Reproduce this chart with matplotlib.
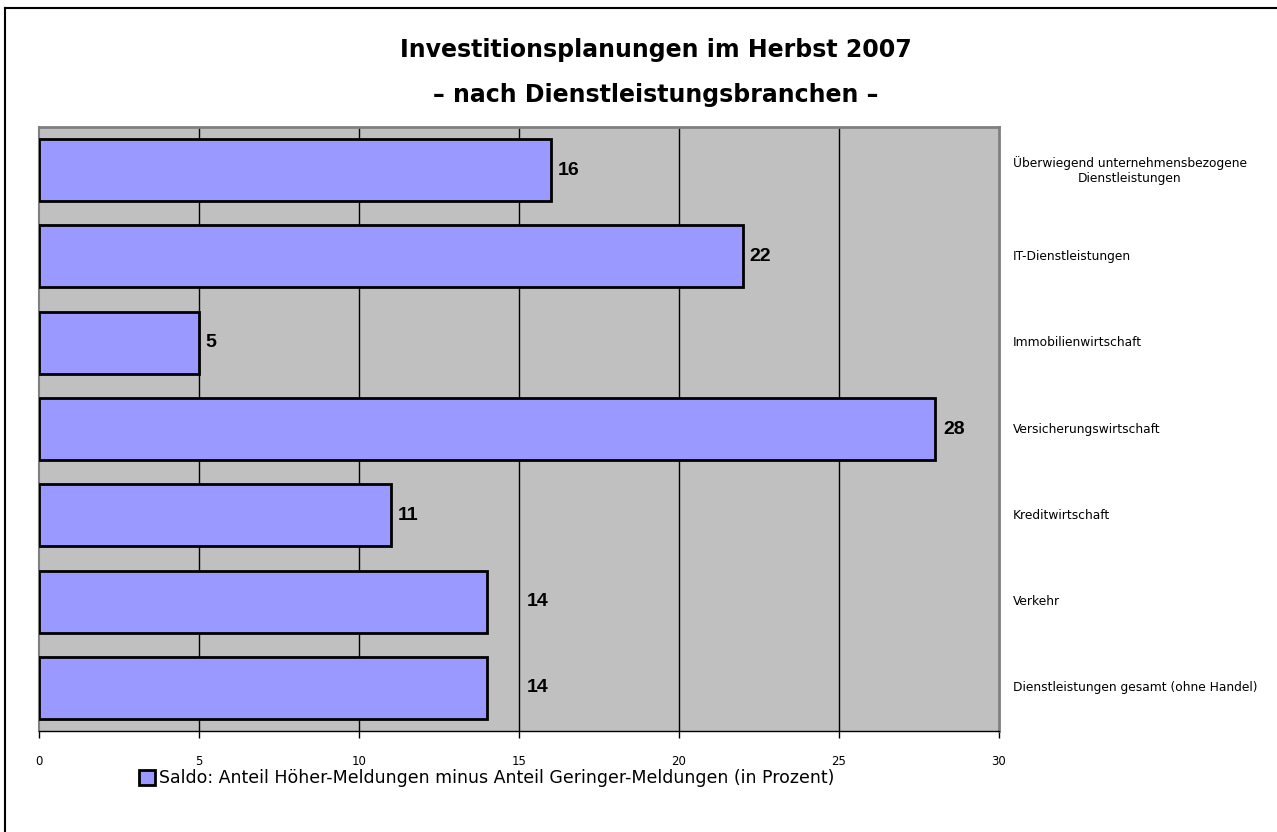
import matplotlib.pyplot as plt
from matplotlib.lines import Line2D
from matplotlib.patches import Patch
import matplotlib.transforms as mtransforms

# data, top to bottom as in the chart
categories = [
    "Überwiegend unternehmensbezogene\nDienstleistungen",
    "IT-Dienstleistungen",
    "Immobilienwirtschaft",
    "Versicherungswirtschaft",
    "Kreditwirtschaft",
    "Verkehr",
    "Dienstleistungen gesamt (ohne Handel)",
]
values = [16, 22, 5, 28, 11, 14, 14]
label_shift = [0.2, 0.2, 0.2, 0.25, 0.2, 1.25, 1.25]
x_ticks = [0, 5, 10, 15, 20, 25, 30]
legend_label = "Saldo: Anteil Höher-Meldungen minus Anteil Geringer-Meldungen (in Prozent)"

W, H = 1277, 832
fig = plt.figure(figsize=(W / 100, H / 100), dpi=100)
fig.patch.set_facecolor("white")

# plot area in pixels: x 39..999, y 127..731
ax = fig.add_axes([39 / W, (H - 731) / H, 960 / W, 604 / H])
ax.set_facecolor("#C0C0C0")

pos = list(range(len(categories)))
ax.barh(pos, values, height=0.72, color="#9999FF", edgecolor="black",
        linewidth=2, zorder=3)
ax.set_ylim(len(categories) - 0.5, -0.5)
ax.set_xlim(0, 30)

for x in x_ticks[1:-1]:
    ax.axvline(x, color="black", linewidth=1, zorder=1)

for i, v in enumerate(values):
    ax.text(v + label_shift[i], i, str(v), ha="left", va="center",
            fontsize=14, fontweight="bold", family="Liberation Sans", zorder=4)

# category names to the right of the plot
trans = mtransforms.blended_transform_factory(ax.transAxes, ax.transData)
for i, c in enumerate(categories):
    ax.text(1.0146, i, c, transform=trans, ha="left", va="center",
            multialignment="center", fontsize=8.8, family="DejaVu Sans")

ax.set_yticks([])
ax.set_xticks(x_ticks)
ax.set_xticklabels([str(t) for t in x_ticks], fontsize=8.5)
ax.tick_params(axis="x", length=5, width=1, color="black", pad=12)
for s in ["top", "right"]:
    ax.spines[s].set_color("#808080")
    ax.spines[s].set_linewidth(2)
ax.spines["left"].set_color("#808080")
ax.spines["left"].set_linewidth(1.5)
ax.spines["bottom"].set_color("black")
ax.spines["bottom"].set_linewidth(1)

fig.text(656 / W, 1 - 50 / H, "Investitionsplanungen im Herbst 2007",
         ha="center", va="center", fontsize=17, fontweight="bold")
fig.text(656 / W, 1 - 95 / H, "– nach Dienstleistungsbranchen –",
         ha="center", va="center", fontsize=17, fontweight="bold")

handle = Patch(facecolor="#9999FF", edgecolor="black", linewidth=2)
fig.legend([handle], [legend_label], loc="center left",
           bbox_to_anchor=(130 / W, 1 - 778 / H), frameon=False,
           fontsize=12.5, handlelength=0.95, handleheight=0.95,
           handletextpad=0.2, borderpad=0)

# outer frame lines (top and left)
fig.add_artist(Line2D([5 / W, 1], [1 - 8 / H, 1 - 8 / H], color="black",
                      linewidth=1.5, transform=fig.transFigure))
fig.add_artist(Line2D([5 / W, 5 / W], [0, 1 - 8 / H], color="black",
                      linewidth=1.5, transform=fig.transFigure))

fig.savefig("out.png", dpi=100)
